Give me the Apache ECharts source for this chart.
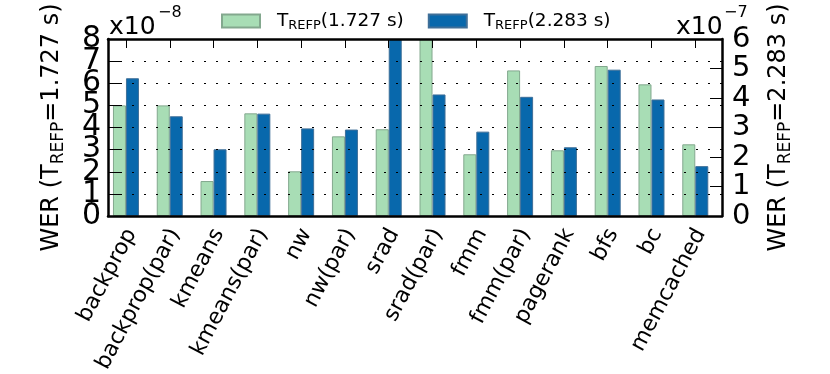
<!DOCTYPE html>
<html><head><meta charset="utf-8">
<script src="https://cdn.jsdelivr.net/npm/echarts@6/dist/echarts.min.js"></script>
<style>html,body{margin:0;padding:0;background:#fff}#c{width:830px;height:374px}</style>
</head><body><div id="c"></div>
<script>
const categories = ['backprop','backprop(par)','kmeans','kmeans(par)','nw','nw(par)','srad','srad(par)','fmm','fmm(par)','pagerank','bfs','bc','memcached'];
// WER, T_REFP = 1.727 s  (units of 1e-8, left axis)
const wer1727 = [5.0,5.0,1.58,4.64,2.02,3.6,3.92,8.0,2.79,6.58,2.97,6.78,5.95,3.24];
// WER, T_REFP = 2.283 s  (units of 1e-7, right axis)
const wer2283 = [4.67,3.38,2.26,3.47,2.97,2.93,6.0,4.12,2.86,4.04,2.33,4.96,3.95,1.69];
const leftTicks = [0,1,2,3,4,5,6,7,8];
const rightTicks = [0,1,2,3,4,5,6];
const seriesNames = ['T_REFP(1.727 s)','T_REFP(2.283 s)'];
const leftName = 'WER (T{s|REFP}=1.727 s)';
const rightName = 'WER (T{s|REFP}=2.283 s)';

const FF = 'DejaVu Sans';
const xMin = -0.41, xMax = 13.61;
const catIdx = categories.map((c,i)=>i);
const labelShift = -0.1;
const leftEven = leftTicks.filter(v => v % 2 === 0);
const leftOdd = leftTicks.filter(v => v % 2 === 1);

const chart = echarts.init(document.getElementById('c'), null, {renderer:'canvas'});
const axisLineStyle = {show:true, onZero:false, lineStyle:{color:'#000', width:2.5}};
const leftLabel = {fontSize:30, color:'#000', fontFamily:FF, margin:7, showMinLabel:true, showMaxLabel:true};
chart.setOption({
  animation:false,
  backgroundColor:'#fff',
  title:[
    {text:'x10', left:109, top:15, padding:0, textStyle:{fontSize:25, fontWeight:'normal', color:'#000', fontFamily:FF}},
    {text:'\u22128', left:158, top:5, padding:0, textStyle:{fontSize:16, fontWeight:'normal', color:'#000', fontFamily:FF}},
    {text:'x10', left:676, top:15, padding:0, textStyle:{fontSize:25, fontWeight:'normal', color:'#000', fontFamily:FF}},
    {text:'\u22127', left:724, top:5, padding:0, textStyle:{fontSize:16, fontWeight:'normal', color:'#000', fontFamily:FF}}
  ],
  legend:{
    left:221, top:10, padding:0, itemWidth:38, itemHeight:13, itemGap:24,
    icon:'rect',
    data:seriesNames,
    formatter: n => n.replace('T_REFP','T{s|REFP}'),
    textStyle:{fontSize:18.5, color:'#000', fontFamily:FF, lineHeight:22, padding:[0,0,0,12],
      rich:{s:{fontSize:13, fontFamily:FF, color:'#000', lineHeight:12, verticalAlign:'bottom'}}}
  },
  grid:{left:108, right:108, top:39, bottom:158, containLabel:false, outerBoundsMode:'none'},
  xAxis:[
    {type:'value', position:'bottom', min:xMin, max:xMax, z:5,
      axisLine:axisLineStyle, axisTick:{show:false}, splitLine:{show:false},
      axisLabel:{customValues: catIdx.map(i=>i+labelShift), formatter: v => categories[Math.round(v-labelShift)] || '',
        rotate:62, fontSize:22, color:'#000', fontFamily:FF, align:'right', verticalAlign:'top', margin:9}},
    {type:'value', position:'top', min:xMin, max:xMax, z:5,
      axisLine:axisLineStyle, splitLine:{show:false}, axisLabel:{show:false},
      axisTick:{show:true, inside:true, length:9, customValues:catIdx, lineStyle:{color:'#000', width:1}}}
  ],
  yAxis:[
    {type:'value', position:'left', min:leftTicks[0], max:leftTicks[leftTicks.length-1], interval:1, z:5,
      axisLine:axisLineStyle,
      axisTick:{show:true, inside:true, length:12, customValues:leftTicks, lineStyle:{color:'#000', width:1}},
      axisLabel:Object.assign({customValues:leftEven}, leftLabel),
      splitLine:{show:true, lineStyle:{color:'#000', width:1.2, type:[2,10]}},
      name:leftName, nameLocation:'middle', nameGap:41, nameRotate:90,
      nameTextStyle:{fontSize:24, color:'#000', fontFamily:FF, lineHeight:30,
        rich:{s:{fontSize:17, fontFamily:FF, color:'#000', lineHeight:20, verticalAlign:'bottom'}}}},
    {type:'value', position:'right', min:rightTicks[0], max:rightTicks[rightTicks.length-1], interval:1, z:5,
      axisLine:axisLineStyle,
      axisTick:{show:true, inside:true, length:12, lineStyle:{color:'#000', width:1}},
      axisLabel:{fontSize:29, color:'#000', fontFamily:FF, margin:10, showMinLabel:true, showMaxLabel:true},
      splitLine:{show:false},
      name:rightName, nameLocation:'middle', nameGap:42, nameRotate:90,
      nameTextStyle:{fontSize:24, color:'#000', fontFamily:FF, lineHeight:30,
        rich:{s:{fontSize:17, fontFamily:FF, color:'#000', lineHeight:20, verticalAlign:'bottom'}}}},
    {type:'value', position:'left', min:leftTicks[0], max:leftTicks[leftTicks.length-1], interval:1, z:5,
      axisLine:{show:false, onZero:false}, axisTick:{show:false}, splitLine:{show:false},
      axisLabel:Object.assign({customValues:leftOdd}, leftLabel)}
  ],
  series:[
    {type:'bar', name:seriesNames[0], xAxisIndex:0, yAxisIndex:0, barWidth:13, barGap:'0%',
      data: wer1727.map((v,i)=>[i,v]),
      itemStyle:{color:'#a8ddb5', borderColor:'#83a88e', borderWidth:1}},
    {type:'bar', name:seriesNames[1], xAxisIndex:0, yAxisIndex:1, barWidth:13, barGap:'0%',
      data: wer2283.map((v,i)=>[i,v]),
      itemStyle:{color:'#0868ac', borderColor:'#3f6f98', borderWidth:1}}
  ]
});
</script></body></html>
